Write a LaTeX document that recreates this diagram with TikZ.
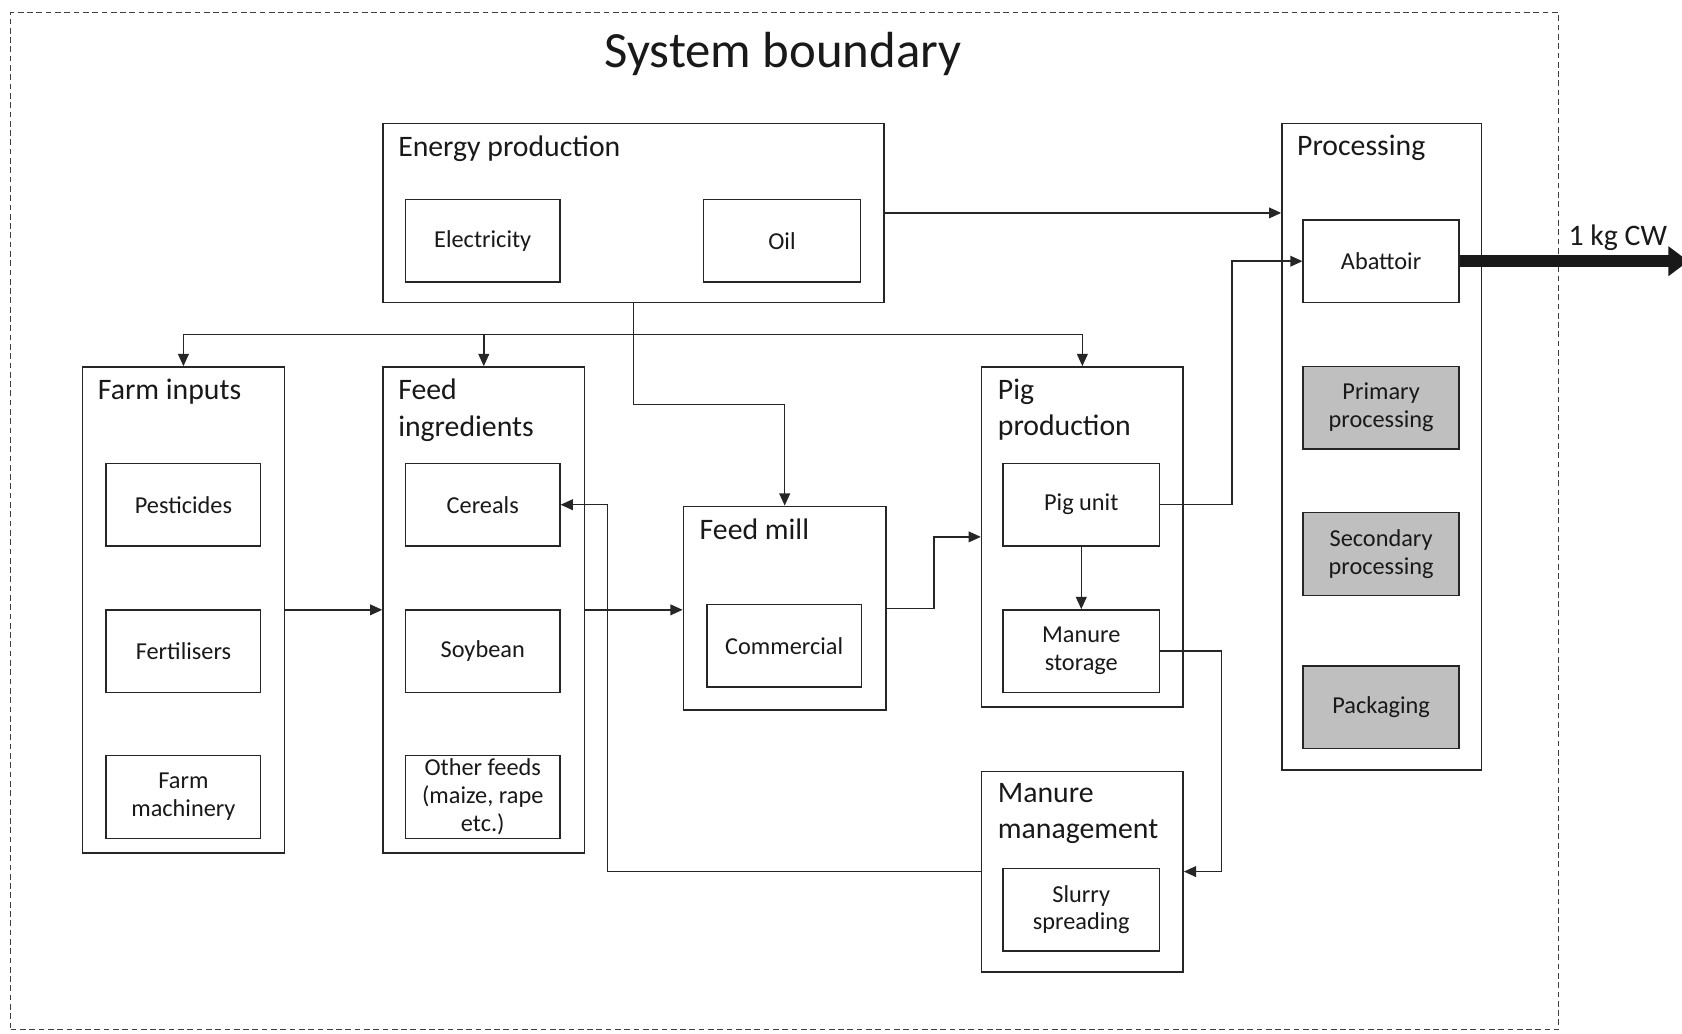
\documentclass[tikz,border=0pt]{standalone}
\usepackage{fontspec}
\setmainfont{Carlito}
\usetikzlibrary{arrows.meta}
\begin{document}
\begin{tikzpicture}[x=0.75pt,y=-0.75pt,
  cont/.style={draw=black!85, line width=1pt, inner sep=0pt},
  sub/.style={draw=black!85, line width=1pt, inner sep=0pt, minimum width=108pt, minimum height=57.75pt,
    align=center, text=black!90, font=\fontsize{17}{19.5}\selectfont},
  greysub/.style={sub, fill=black!25},
  ttl/.style={anchor=north west, inner sep=0pt, align=left, text=black!90, font=\fontsize{20.8}{25.5}\selectfont},
  link/.style={draw=black!85, line width=1pt},
  arr/.style={link, -{Triangle[length=8.5pt,width=7.5pt]}}]
\useasboundingbox (0,0) rectangle (1568,963);
\path[fill=white] (0,0) rectangle (1568,963);

% system boundary
\node[draw=black!75, dash pattern=on 4pt off 2.5pt, line width=0.8pt, inner sep=0pt,
  minimum width=1082.25pt, minimum height=711pt] (sysb) at (731.5,486) {};
\node[anchor=base, inner sep=0pt, text=black!90, font=\fontsize{35.5}{40}\selectfont] (title) at (730,63) {System boundary};

% containers
\node[cont, minimum width=350.25pt, minimum height=125.25pt] (energy) at (590.5,198.5) {};
\node[cont, minimum width=139.5pt, minimum height=452.25pt] (proc) at (1288,416.5) {};
\node[cont, minimum width=141pt, minimum height=339.75pt] (farm) at (171,568.5) {};
\node[cont, minimum width=141pt, minimum height=339.75pt] (feed) at (451,568.5) {};
\node[cont, minimum width=141.75pt, minimum height=142.5pt] (mill) at (731.5,567) {};
\node[cont, minimum width=141pt, minimum height=237.75pt] (pig) at (1009,500.5) {};
\node[cont, minimum width=141pt, minimum height=140.25pt] (mman) at (1009,812.5) {};

% container titles
\node[ttl] (energyT) at (371,126) {Energy production};
\node[ttl] (procT) at (1209,126) {Processing};
\node[ttl] (farmT) at (91,353) {Farm inputs};
\node[ttl] (feedT) at (371,353) {Feed\\ingredients};
\node[ttl] (millT) at (652,483) {Feed mill};
\node[ttl] (pigT) at (930,353) {Pig\\production};
\node[ttl] (mmanT) at (930,730) {Manure\\management};

% sub boxes
\node[sub] (elec) at (450,224.5) {Electricity};
\node[sub, minimum width=109.5pt] (oil) at (729,224.5) {Oil};
\node[sub, minimum width=109pt] (abattoir) at (1287.5,243.5) {Abattoir};
\node[greysub, minimum width=109pt] (primary) at (1287.5,380) {Primary\\processing};
\node[greysub, minimum width=109pt] (secondary) at (1287.5,516.5) {Secondary\\processing};
\node[greysub, minimum width=109pt] (packaging) at (1287.5,659.5) {Packaging};
\node[sub] (pest) at (171,470.5) {Pesticides};
\node[sub] (fert) at (171,607) {Fertilisers};
\node[sub] (mach) at (171,743) {Farm\\machinery};
\node[sub] (cereals) at (450,470.5) {Cereals};
\node[sub] (soy) at (450,607) {Soybean};
\node[sub] (other) at (450,743) {Other feeds\\(maize, rape\\etc.)};
\node[sub] (comm) at (731,602) {Commercial};
\node[sub, minimum width=109.5pt] (pigunit) at (1008,470.5) {Pig unit};
\node[sub, minimum width=109.5pt] (mstor) at (1008,607) {Manure\\storage};
\node[sub, minimum width=109.5pt] (slurry) at (1008,848) {Slurry\\spreading};

% connectors
\draw[arr] (energy.east) -- (energy.east -| proc.west);
\coordinate (bus) at (590.5,312);
\draw[link] (energy.south) -- (bus);
\draw[arr] (bus) -| (farm.north);
\draw[arr] (bus) -| (feed.north);
\draw[arr] (bus) -| (pig.north);
\draw[arr] (bus) -- ++(0,65) -| (mill.north);
\draw[arr] (farm.east) -- (farm.east -| feed.west);
\draw[arr] (feed.east) -- (feed.east -| mill.west);
\draw[arr] (mill.east) -- ++(44,0) |- (pig.west);
\draw[arr] (pigunit.south) -- (mstor.north);
\draw[arr] (pigunit.east) -- ++(67,0) |- (abattoir.west);
\draw[arr] (mstor.east) -- ++(57,0) |- (mman.east);
\draw[arr] (mman.west) -- ++(-348,0) |- (cereals.east);

% output
\coordinate (out) at (1574,243.5);
\draw[black!90, line width=8pt, -{Triangle[length=14pt,width=20pt]}] (abattoir.east) -- (out);
\node[anchor=base west, inner sep=0pt, text=black!90, font=\fontsize{20.8}{25.5}\selectfont] (cw) at (1462,229) {1 kg CW};
\end{tikzpicture}
\end{document}
